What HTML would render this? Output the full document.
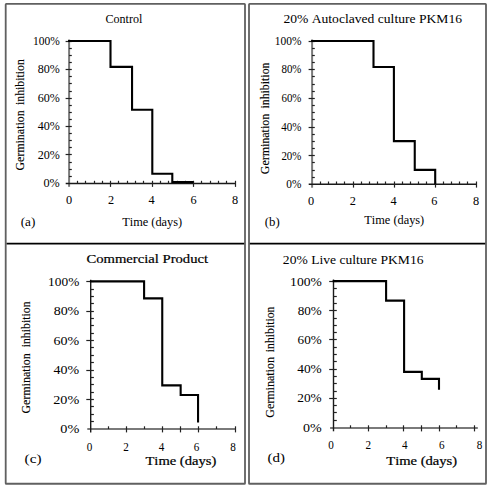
<!DOCTYPE html>
<html><head><meta charset="utf-8"><style>
html,body{margin:0;padding:0;background:#fff;}
body{width:488px;height:489px;overflow:hidden;}
svg{display:block;}
text{font-family:"Liberation Serif",serif;fill:#000;font-kerning:none;}
</style></head><body>
<svg width="488" height="489" viewBox="0 0 488 489">
<rect x="5.7" y="3.95" width="239.3" height="479.8" rx="0.6" fill="none" stroke="#606060" stroke-width="1.8"/>
<rect x="249" y="3.95" width="237" height="479.8" rx="0.6" fill="none" stroke="#606060" stroke-width="1.8"/>
<line x1="6.6" y1="243.6" x2="244.2" y2="243.6" stroke="#000" stroke-width="1.8"/>
<line x1="249.8" y1="243.6" x2="485.2" y2="243.6" stroke="#000" stroke-width="1.8"/>
<line x1="69.10" y1="39.50" x2="69.10" y2="186.80" stroke="#7a7a7a" stroke-width="2"/>
<line x1="65.70" y1="183.50" x2="235.10" y2="183.50" stroke="#1a1a1a" stroke-width="1.4"/>
<line x1="69.10" y1="176.50" x2="71.80" y2="176.50" stroke="#222" stroke-width="1.2"/>
<line x1="69.10" y1="169.50" x2="71.80" y2="169.50" stroke="#222" stroke-width="1.2"/>
<line x1="69.10" y1="162.50" x2="71.80" y2="162.50" stroke="#222" stroke-width="1.2"/>
<line x1="65.60" y1="154.50" x2="71.80" y2="154.50" stroke="#222" stroke-width="1.2"/>
<line x1="69.10" y1="147.50" x2="71.80" y2="147.50" stroke="#222" stroke-width="1.2"/>
<line x1="69.10" y1="140.50" x2="71.80" y2="140.50" stroke="#222" stroke-width="1.2"/>
<line x1="69.10" y1="133.50" x2="71.80" y2="133.50" stroke="#222" stroke-width="1.2"/>
<line x1="65.60" y1="126.50" x2="71.80" y2="126.50" stroke="#222" stroke-width="1.2"/>
<line x1="69.10" y1="119.50" x2="71.80" y2="119.50" stroke="#222" stroke-width="1.2"/>
<line x1="69.10" y1="112.50" x2="71.80" y2="112.50" stroke="#222" stroke-width="1.2"/>
<line x1="69.10" y1="105.50" x2="71.80" y2="105.50" stroke="#222" stroke-width="1.2"/>
<line x1="65.60" y1="98.50" x2="71.80" y2="98.50" stroke="#222" stroke-width="1.2"/>
<line x1="69.10" y1="91.50" x2="71.80" y2="91.50" stroke="#222" stroke-width="1.2"/>
<line x1="69.10" y1="83.50" x2="71.80" y2="83.50" stroke="#222" stroke-width="1.2"/>
<line x1="69.10" y1="76.50" x2="71.80" y2="76.50" stroke="#222" stroke-width="1.2"/>
<line x1="65.60" y1="69.50" x2="71.80" y2="69.50" stroke="#222" stroke-width="1.2"/>
<line x1="69.10" y1="62.50" x2="71.80" y2="62.50" stroke="#222" stroke-width="1.2"/>
<line x1="69.10" y1="55.50" x2="71.80" y2="55.50" stroke="#222" stroke-width="1.2"/>
<line x1="69.10" y1="48.50" x2="71.80" y2="48.50" stroke="#222" stroke-width="1.2"/>
<line x1="65.60" y1="41.50" x2="71.80" y2="41.50" stroke="#222" stroke-width="1.2"/>
<line x1="77.50" y1="180.80" x2="77.50" y2="183.50" stroke="#222" stroke-width="1.2"/>
<line x1="85.50" y1="180.80" x2="85.50" y2="183.50" stroke="#222" stroke-width="1.2"/>
<line x1="94.50" y1="180.80" x2="94.50" y2="183.50" stroke="#222" stroke-width="1.2"/>
<line x1="102.50" y1="180.80" x2="102.50" y2="183.50" stroke="#222" stroke-width="1.2"/>
<line x1="110.50" y1="180.80" x2="110.50" y2="186.90" stroke="#222" stroke-width="1.2"/>
<line x1="118.50" y1="180.80" x2="118.50" y2="183.50" stroke="#222" stroke-width="1.2"/>
<line x1="127.50" y1="180.80" x2="127.50" y2="183.50" stroke="#222" stroke-width="1.2"/>
<line x1="135.50" y1="180.80" x2="135.50" y2="183.50" stroke="#222" stroke-width="1.2"/>
<line x1="143.50" y1="180.80" x2="143.50" y2="183.50" stroke="#222" stroke-width="1.2"/>
<line x1="152.50" y1="180.80" x2="152.50" y2="186.90" stroke="#222" stroke-width="1.2"/>
<line x1="160.50" y1="180.80" x2="160.50" y2="183.50" stroke="#222" stroke-width="1.2"/>
<line x1="168.50" y1="180.80" x2="168.50" y2="183.50" stroke="#222" stroke-width="1.2"/>
<line x1="177.50" y1="180.80" x2="177.50" y2="183.50" stroke="#222" stroke-width="1.2"/>
<line x1="185.50" y1="180.80" x2="185.50" y2="183.50" stroke="#222" stroke-width="1.2"/>
<line x1="193.50" y1="180.80" x2="193.50" y2="186.90" stroke="#222" stroke-width="1.2"/>
<line x1="201.50" y1="180.80" x2="201.50" y2="183.50" stroke="#222" stroke-width="1.2"/>
<line x1="210.50" y1="180.80" x2="210.50" y2="183.50" stroke="#222" stroke-width="1.2"/>
<line x1="218.50" y1="180.80" x2="218.50" y2="183.50" stroke="#222" stroke-width="1.2"/>
<line x1="226.50" y1="180.80" x2="226.50" y2="183.50" stroke="#222" stroke-width="1.2"/>
<line x1="235.50" y1="180.80" x2="235.50" y2="186.90" stroke="#222" stroke-width="1.2"/>
<polyline points="68.10,41.00 110.50,41.00 110.50,66.90 132.05,66.90 132.05,109.70 152.30,109.70 152.30,173.70 172.30,173.70 172.30,182.10 193.50,182.10" fill="none" stroke="#000" stroke-width="2.1" stroke-linejoin="miter" stroke-linecap="butt"/>
<line x1="312.10" y1="39.50" x2="312.10" y2="187.70" stroke="#7a7a7a" stroke-width="2"/>
<line x1="308.70" y1="184.20" x2="476.10" y2="184.20" stroke="#1a1a1a" stroke-width="1.4"/>
<line x1="312.10" y1="177.50" x2="314.80" y2="177.50" stroke="#222" stroke-width="1.2"/>
<line x1="312.10" y1="170.50" x2="314.80" y2="170.50" stroke="#222" stroke-width="1.2"/>
<line x1="312.10" y1="162.50" x2="314.80" y2="162.50" stroke="#222" stroke-width="1.2"/>
<line x1="308.60" y1="155.50" x2="314.80" y2="155.50" stroke="#222" stroke-width="1.2"/>
<line x1="312.10" y1="148.50" x2="314.80" y2="148.50" stroke="#222" stroke-width="1.2"/>
<line x1="312.10" y1="141.50" x2="314.80" y2="141.50" stroke="#222" stroke-width="1.2"/>
<line x1="312.10" y1="134.50" x2="314.80" y2="134.50" stroke="#222" stroke-width="1.2"/>
<line x1="308.60" y1="127.50" x2="314.80" y2="127.50" stroke="#222" stroke-width="1.2"/>
<line x1="312.10" y1="119.50" x2="314.80" y2="119.50" stroke="#222" stroke-width="1.2"/>
<line x1="312.10" y1="112.50" x2="314.80" y2="112.50" stroke="#222" stroke-width="1.2"/>
<line x1="312.10" y1="105.50" x2="314.80" y2="105.50" stroke="#222" stroke-width="1.2"/>
<line x1="308.60" y1="98.50" x2="314.80" y2="98.50" stroke="#222" stroke-width="1.2"/>
<line x1="312.10" y1="91.50" x2="314.80" y2="91.50" stroke="#222" stroke-width="1.2"/>
<line x1="312.10" y1="84.50" x2="314.80" y2="84.50" stroke="#222" stroke-width="1.2"/>
<line x1="312.10" y1="76.50" x2="314.80" y2="76.50" stroke="#222" stroke-width="1.2"/>
<line x1="308.60" y1="69.50" x2="314.80" y2="69.50" stroke="#222" stroke-width="1.2"/>
<line x1="312.10" y1="62.50" x2="314.80" y2="62.50" stroke="#222" stroke-width="1.2"/>
<line x1="312.10" y1="55.50" x2="314.80" y2="55.50" stroke="#222" stroke-width="1.2"/>
<line x1="312.10" y1="48.50" x2="314.80" y2="48.50" stroke="#222" stroke-width="1.2"/>
<line x1="308.60" y1="41.50" x2="314.80" y2="41.50" stroke="#222" stroke-width="1.2"/>
<line x1="320.50" y1="181.50" x2="320.50" y2="184.20" stroke="#222" stroke-width="1.2"/>
<line x1="328.50" y1="181.50" x2="328.50" y2="184.20" stroke="#222" stroke-width="1.2"/>
<line x1="336.50" y1="181.50" x2="336.50" y2="184.20" stroke="#222" stroke-width="1.2"/>
<line x1="344.50" y1="181.50" x2="344.50" y2="184.20" stroke="#222" stroke-width="1.2"/>
<line x1="353.50" y1="181.50" x2="353.50" y2="187.60" stroke="#222" stroke-width="1.2"/>
<line x1="361.50" y1="181.50" x2="361.50" y2="184.20" stroke="#222" stroke-width="1.2"/>
<line x1="369.50" y1="181.50" x2="369.50" y2="184.20" stroke="#222" stroke-width="1.2"/>
<line x1="377.50" y1="181.50" x2="377.50" y2="184.20" stroke="#222" stroke-width="1.2"/>
<line x1="385.50" y1="181.50" x2="385.50" y2="184.20" stroke="#222" stroke-width="1.2"/>
<line x1="394.50" y1="181.50" x2="394.50" y2="187.60" stroke="#222" stroke-width="1.2"/>
<line x1="402.50" y1="181.50" x2="402.50" y2="184.20" stroke="#222" stroke-width="1.2"/>
<line x1="410.50" y1="181.50" x2="410.50" y2="184.20" stroke="#222" stroke-width="1.2"/>
<line x1="418.50" y1="181.50" x2="418.50" y2="184.20" stroke="#222" stroke-width="1.2"/>
<line x1="426.50" y1="181.50" x2="426.50" y2="184.20" stroke="#222" stroke-width="1.2"/>
<line x1="435.50" y1="181.50" x2="435.50" y2="187.60" stroke="#222" stroke-width="1.2"/>
<line x1="443.50" y1="181.50" x2="443.50" y2="184.20" stroke="#222" stroke-width="1.2"/>
<line x1="451.50" y1="181.50" x2="451.50" y2="184.20" stroke="#222" stroke-width="1.2"/>
<line x1="459.50" y1="181.50" x2="459.50" y2="184.20" stroke="#222" stroke-width="1.2"/>
<line x1="467.50" y1="181.50" x2="467.50" y2="184.20" stroke="#222" stroke-width="1.2"/>
<line x1="476.50" y1="181.50" x2="476.50" y2="187.60" stroke="#222" stroke-width="1.2"/>
<polyline points="311.10,41.05 373.50,41.05 373.50,66.95 393.90,66.95 393.90,141.15 414.75,141.15 414.75,169.85 435.20,169.85 435.20,184.20" fill="none" stroke="#000" stroke-width="2.1" stroke-linejoin="miter" stroke-linecap="butt"/>
<line x1="87.30" y1="429.00" x2="235.00" y2="429.00" stroke="#7a7a7a" stroke-width="2"/>
<line x1="90.70" y1="279.80" x2="90.70" y2="432.50" stroke="#1a1a1a" stroke-width="1.4"/>
<line x1="90.70" y1="421.50" x2="93.90" y2="421.50" stroke="#222" stroke-width="1.2"/>
<line x1="90.70" y1="414.50" x2="93.90" y2="414.50" stroke="#222" stroke-width="1.2"/>
<line x1="90.70" y1="406.50" x2="93.90" y2="406.50" stroke="#222" stroke-width="1.2"/>
<line x1="86.30" y1="399.50" x2="93.90" y2="399.50" stroke="#222" stroke-width="1.2"/>
<line x1="90.70" y1="392.50" x2="93.90" y2="392.50" stroke="#222" stroke-width="1.2"/>
<line x1="90.70" y1="384.50" x2="93.90" y2="384.50" stroke="#222" stroke-width="1.2"/>
<line x1="90.70" y1="377.50" x2="93.90" y2="377.50" stroke="#222" stroke-width="1.2"/>
<line x1="86.30" y1="370.50" x2="93.90" y2="370.50" stroke="#222" stroke-width="1.2"/>
<line x1="90.70" y1="362.50" x2="93.90" y2="362.50" stroke="#222" stroke-width="1.2"/>
<line x1="90.70" y1="355.50" x2="93.90" y2="355.50" stroke="#222" stroke-width="1.2"/>
<line x1="90.70" y1="347.50" x2="93.90" y2="347.50" stroke="#222" stroke-width="1.2"/>
<line x1="86.30" y1="340.50" x2="93.90" y2="340.50" stroke="#222" stroke-width="1.2"/>
<line x1="90.70" y1="333.50" x2="93.90" y2="333.50" stroke="#222" stroke-width="1.2"/>
<line x1="90.70" y1="325.50" x2="93.90" y2="325.50" stroke="#222" stroke-width="1.2"/>
<line x1="90.70" y1="318.50" x2="93.90" y2="318.50" stroke="#222" stroke-width="1.2"/>
<line x1="86.30" y1="311.50" x2="93.90" y2="311.50" stroke="#222" stroke-width="1.2"/>
<line x1="90.70" y1="303.50" x2="93.90" y2="303.50" stroke="#222" stroke-width="1.2"/>
<line x1="90.70" y1="296.50" x2="93.90" y2="296.50" stroke="#222" stroke-width="1.2"/>
<line x1="90.70" y1="289.50" x2="93.90" y2="289.50" stroke="#222" stroke-width="1.2"/>
<line x1="86.30" y1="281.50" x2="93.90" y2="281.50" stroke="#222" stroke-width="1.2"/>
<line x1="108.50" y1="426.30" x2="108.50" y2="429.00" stroke="#222" stroke-width="1.2"/>
<line x1="126.50" y1="426.30" x2="126.50" y2="432.40" stroke="#222" stroke-width="1.2"/>
<line x1="144.50" y1="426.30" x2="144.50" y2="429.00" stroke="#222" stroke-width="1.2"/>
<line x1="162.50" y1="426.30" x2="162.50" y2="432.40" stroke="#222" stroke-width="1.2"/>
<line x1="180.50" y1="426.30" x2="180.50" y2="432.40" stroke="#222" stroke-width="1.2"/>
<line x1="198.50" y1="426.30" x2="198.50" y2="432.40" stroke="#222" stroke-width="1.2"/>
<line x1="216.50" y1="426.30" x2="216.50" y2="429.00" stroke="#222" stroke-width="1.2"/>
<line x1="235.50" y1="426.30" x2="235.50" y2="432.40" stroke="#222" stroke-width="1.2"/>
<polyline points="89.90,281.35 144.10,281.35 144.10,298.40 162.25,298.40 162.25,385.40 180.65,385.40 180.65,395.05 198.05,395.05 198.05,422.40" fill="none" stroke="#000" stroke-width="2.1" stroke-linejoin="miter" stroke-linecap="butt"/>
<line x1="330.10" y1="428.00" x2="477.80" y2="428.00" stroke="#7a7a7a" stroke-width="2"/>
<line x1="333.50" y1="279.50" x2="333.50" y2="431.30" stroke="#1a1a1a" stroke-width="1.4"/>
<line x1="333.50" y1="420.50" x2="336.80" y2="420.50" stroke="#222" stroke-width="1.2"/>
<line x1="333.50" y1="412.50" x2="336.80" y2="412.50" stroke="#222" stroke-width="1.2"/>
<line x1="333.50" y1="405.50" x2="336.80" y2="405.50" stroke="#222" stroke-width="1.2"/>
<line x1="329.20" y1="398.50" x2="336.80" y2="398.50" stroke="#222" stroke-width="1.2"/>
<line x1="333.50" y1="391.50" x2="336.80" y2="391.50" stroke="#222" stroke-width="1.2"/>
<line x1="333.50" y1="383.50" x2="336.80" y2="383.50" stroke="#222" stroke-width="1.2"/>
<line x1="333.50" y1="376.50" x2="336.80" y2="376.50" stroke="#222" stroke-width="1.2"/>
<line x1="329.20" y1="369.50" x2="336.80" y2="369.50" stroke="#222" stroke-width="1.2"/>
<line x1="333.50" y1="361.50" x2="336.80" y2="361.50" stroke="#222" stroke-width="1.2"/>
<line x1="333.50" y1="354.50" x2="336.80" y2="354.50" stroke="#222" stroke-width="1.2"/>
<line x1="333.50" y1="347.50" x2="336.80" y2="347.50" stroke="#222" stroke-width="1.2"/>
<line x1="329.20" y1="339.50" x2="336.80" y2="339.50" stroke="#222" stroke-width="1.2"/>
<line x1="333.50" y1="332.50" x2="336.80" y2="332.50" stroke="#222" stroke-width="1.2"/>
<line x1="333.50" y1="325.50" x2="336.80" y2="325.50" stroke="#222" stroke-width="1.2"/>
<line x1="333.50" y1="318.50" x2="336.80" y2="318.50" stroke="#222" stroke-width="1.2"/>
<line x1="329.20" y1="310.50" x2="336.80" y2="310.50" stroke="#222" stroke-width="1.2"/>
<line x1="333.50" y1="303.50" x2="336.80" y2="303.50" stroke="#222" stroke-width="1.2"/>
<line x1="333.50" y1="296.50" x2="336.80" y2="296.50" stroke="#222" stroke-width="1.2"/>
<line x1="333.50" y1="288.50" x2="336.80" y2="288.50" stroke="#222" stroke-width="1.2"/>
<line x1="329.20" y1="281.50" x2="336.80" y2="281.50" stroke="#222" stroke-width="1.2"/>
<line x1="350.50" y1="425.30" x2="350.50" y2="428.00" stroke="#222" stroke-width="1.2"/>
<line x1="368.50" y1="425.30" x2="368.50" y2="431.40" stroke="#222" stroke-width="1.2"/>
<line x1="386.50" y1="425.30" x2="386.50" y2="428.00" stroke="#222" stroke-width="1.2"/>
<line x1="403.50" y1="425.30" x2="403.50" y2="431.40" stroke="#222" stroke-width="1.2"/>
<line x1="421.50" y1="425.30" x2="421.50" y2="431.40" stroke="#222" stroke-width="1.2"/>
<line x1="439.50" y1="425.30" x2="439.50" y2="431.40" stroke="#222" stroke-width="1.2"/>
<line x1="456.50" y1="425.30" x2="456.50" y2="428.00" stroke="#222" stroke-width="1.2"/>
<line x1="474.50" y1="425.30" x2="474.50" y2="431.40" stroke="#222" stroke-width="1.2"/>
<polyline points="332.70,281.15 386.10,281.15 386.10,300.60 404.10,300.60 404.10,371.90 421.80,371.90 421.80,378.90 439.00,378.90 439.00,389.70" fill="none" stroke="#000" stroke-width="2.1" stroke-linejoin="miter" stroke-linecap="butt"/>
<text x="105.51" y="22.90" font-size="12.80" font-weight="normal" textLength="36.84" lengthAdjust="spacingAndGlyphs">Control</text>
<text x="283.40" y="23.00" font-size="12.80" font-weight="normal" textLength="178.60" lengthAdjust="spacingAndGlyphs">20% Autoclaved culture PKM16</text>
<text x="86.40" y="263.10" font-size="12.50" font-weight="normal" textLength="121.69" lengthAdjust="spacingAndGlyphs" style="stroke:#000;stroke-width:0.2px">Commercial Product</text>
<text x="282.87" y="263.70" font-size="13.20" font-weight="normal" textLength="140.63" lengthAdjust="spacingAndGlyphs">20% Live culture PKM16</text>
<text transform="translate(23.80,170.59) rotate(-90)" font-size="12.60" textLength="60.27" lengthAdjust="spacingAndGlyphs" style="stroke:#000;stroke-width:0.12px">Germination</text>
<text transform="translate(23.80,105.05) rotate(-90)" font-size="12.60" textLength="45.93" lengthAdjust="spacingAndGlyphs" style="stroke:#000;stroke-width:0.12px">inhibition</text>
<text transform="translate(269.20,174.19) rotate(-90)" font-size="12.60" textLength="60.37" lengthAdjust="spacingAndGlyphs" style="stroke:#000;stroke-width:0.12px">Germination</text>
<text transform="translate(269.20,108.55) rotate(-90)" font-size="12.60" textLength="46.03" lengthAdjust="spacingAndGlyphs" style="stroke:#000;stroke-width:0.12px">inhibition</text>
<text transform="translate(29.80,413.59) rotate(-90)" font-size="12.60" textLength="60.37" lengthAdjust="spacingAndGlyphs" style="stroke:#000;stroke-width:0.12px">Germination</text>
<text transform="translate(29.80,347.35) rotate(-90)" font-size="12.60" textLength="45.93" lengthAdjust="spacingAndGlyphs" style="stroke:#000;stroke-width:0.12px">inhibition</text>
<text transform="translate(274.40,417.79) rotate(-90)" font-size="12.60" textLength="60.78" lengthAdjust="spacingAndGlyphs" style="stroke:#000;stroke-width:0.12px">Germination</text>
<text transform="translate(274.40,352.15) rotate(-90)" font-size="12.60" textLength="45.62" lengthAdjust="spacingAndGlyphs" style="stroke:#000;stroke-width:0.12px">inhibition</text>
<text x="20.72" y="225.86" font-size="12.30" font-weight="normal" textLength="14.66" lengthAdjust="spacingAndGlyphs">(a)</text>
<text x="264.74" y="225.96" font-size="12.30" font-weight="normal" textLength="14.93" lengthAdjust="spacingAndGlyphs">(b)</text>
<text x="24.63" y="462.76" font-size="12.30" font-weight="normal" textLength="16.83" lengthAdjust="spacingAndGlyphs" style="stroke:#000;stroke-width:0.05px">(c)</text>
<text x="267.54" y="462.36" font-size="12.30" font-weight="normal" textLength="17.41" lengthAdjust="spacingAndGlyphs" style="stroke:#000;stroke-width:0.05px">(d)</text>
<text x="122.18" y="225.87" font-size="12.20" font-weight="normal" textLength="59.97" lengthAdjust="spacingAndGlyphs">Time (days)</text>
<text x="364.28" y="224.27" font-size="12.20" font-weight="normal" textLength="59.97" lengthAdjust="spacingAndGlyphs">Time (days)</text>
<text x="145.44" y="464.86" font-size="12.60" font-weight="normal" textLength="70.90" lengthAdjust="spacingAndGlyphs" style="stroke:#000;stroke-width:0.22px">Time (days)</text>
<text x="386.24" y="464.66" font-size="12.60" font-weight="normal" textLength="70.90" lengthAdjust="spacingAndGlyphs" style="stroke:#000;stroke-width:0.22px">Time (days)</text>
<text x="32.99" y="45.04" font-size="11.60" font-weight="normal" textLength="26.80" lengthAdjust="spacingAndGlyphs">100%</text>
<text x="37.74" y="73.47" font-size="11.60" font-weight="normal" textLength="22.07" lengthAdjust="spacingAndGlyphs">80%</text>
<text x="37.68" y="101.91" font-size="11.60" font-weight="normal" textLength="22.13" lengthAdjust="spacingAndGlyphs">60%</text>
<text x="37.66" y="130.34" font-size="11.60" font-weight="normal" textLength="22.15" lengthAdjust="spacingAndGlyphs">40%</text>
<text x="37.67" y="158.78" font-size="11.60" font-weight="normal" textLength="22.14" lengthAdjust="spacingAndGlyphs">20%</text>
<text x="43.53" y="187.21" font-size="11.60" font-weight="normal" textLength="16.28" lengthAdjust="spacingAndGlyphs">0%</text>
<text x="274.79" y="44.78" font-size="11.60" font-weight="normal" textLength="26.70" lengthAdjust="spacingAndGlyphs">100%</text>
<text x="281.48" y="73.48" font-size="11.60" font-weight="normal" textLength="19.99" lengthAdjust="spacingAndGlyphs">80%</text>
<text x="281.43" y="102.18" font-size="11.60" font-weight="normal" textLength="20.04" lengthAdjust="spacingAndGlyphs">60%</text>
<text x="281.28" y="130.88" font-size="11.60" font-weight="normal" textLength="20.19" lengthAdjust="spacingAndGlyphs">40%</text>
<text x="281.42" y="159.58" font-size="11.60" font-weight="normal" textLength="20.05" lengthAdjust="spacingAndGlyphs">20%</text>
<text x="286.37" y="188.28" font-size="11.60" font-weight="normal" textLength="15.12" lengthAdjust="spacingAndGlyphs">0%</text>
<text x="48.13" y="285.99" font-size="12.60" font-weight="normal" textLength="31.13" lengthAdjust="spacingAndGlyphs">100%</text>
<text x="53.67" y="315.37" font-size="12.60" font-weight="normal" textLength="25.61" lengthAdjust="spacingAndGlyphs">80%</text>
<text x="53.60" y="344.75" font-size="12.60" font-weight="normal" textLength="25.68" lengthAdjust="spacingAndGlyphs">60%</text>
<text x="53.63" y="374.14" font-size="12.60" font-weight="normal" textLength="25.65" lengthAdjust="spacingAndGlyphs">40%</text>
<text x="53.28" y="403.52" font-size="12.60" font-weight="normal" textLength="26.01" lengthAdjust="spacingAndGlyphs">20%</text>
<text x="60.26" y="432.91" font-size="12.60" font-weight="normal" textLength="19.03" lengthAdjust="spacingAndGlyphs">0%</text>
<text x="290.11" y="285.61" font-size="12.60" font-weight="normal" textLength="31.66" lengthAdjust="spacingAndGlyphs">100%</text>
<text x="297.70" y="314.81" font-size="12.60" font-weight="normal" textLength="24.05" lengthAdjust="spacingAndGlyphs">80%</text>
<text x="297.63" y="344.01" font-size="12.60" font-weight="normal" textLength="24.11" lengthAdjust="spacingAndGlyphs">60%</text>
<text x="297.24" y="373.21" font-size="12.60" font-weight="normal" textLength="24.52" lengthAdjust="spacingAndGlyphs">40%</text>
<text x="297.31" y="402.41" font-size="12.60" font-weight="normal" textLength="24.44" lengthAdjust="spacingAndGlyphs">20%</text>
<text x="303.07" y="431.61" font-size="12.60" font-weight="normal" textLength="18.71" lengthAdjust="spacingAndGlyphs">0%</text>
<text x="66.12" y="204.28" font-size="12.30" font-weight="normal" textLength="6.15" lengthAdjust="spacingAndGlyphs">0</text>
<text x="108.09" y="204.28" font-size="12.30" font-weight="normal" textLength="6.15" lengthAdjust="spacingAndGlyphs">2</text>
<text x="148.60" y="204.28" font-size="12.30" font-weight="normal" textLength="6.15" lengthAdjust="spacingAndGlyphs">4</text>
<text x="190.44" y="204.28" font-size="12.30" font-weight="normal" textLength="6.15" lengthAdjust="spacingAndGlyphs">6</text>
<text x="232.02" y="204.28" font-size="12.30" font-weight="normal" textLength="6.15" lengthAdjust="spacingAndGlyphs">8</text>
<text x="308.12" y="204.83" font-size="12.30" font-weight="normal" textLength="6.15" lengthAdjust="spacingAndGlyphs">0</text>
<text x="349.69" y="204.83" font-size="12.30" font-weight="normal" textLength="6.15" lengthAdjust="spacingAndGlyphs">2</text>
<text x="390.50" y="204.83" font-size="12.30" font-weight="normal" textLength="6.15" lengthAdjust="spacingAndGlyphs">4</text>
<text x="431.24" y="204.83" font-size="12.30" font-weight="normal" textLength="6.15" lengthAdjust="spacingAndGlyphs">6</text>
<text x="472.93" y="204.83" font-size="12.30" font-weight="normal" textLength="6.15" lengthAdjust="spacingAndGlyphs">8</text>
<text x="86.76" y="451.46" font-size="12.40" font-weight="normal" textLength="5.58" lengthAdjust="spacingAndGlyphs">0</text>
<text x="123.17" y="451.46" font-size="12.40" font-weight="normal" textLength="5.58" lengthAdjust="spacingAndGlyphs">2</text>
<text x="158.69" y="451.46" font-size="12.40" font-weight="normal" textLength="5.58" lengthAdjust="spacingAndGlyphs">4</text>
<text x="193.64" y="451.46" font-size="12.40" font-weight="normal" textLength="5.58" lengthAdjust="spacingAndGlyphs">6</text>
<text x="230.21" y="451.46" font-size="12.40" font-weight="normal" textLength="5.58" lengthAdjust="spacingAndGlyphs">8</text>
<text x="328.21" y="449.41" font-size="12.40" font-weight="normal" textLength="5.58" lengthAdjust="spacingAndGlyphs">0</text>
<text x="365.57" y="449.41" font-size="12.40" font-weight="normal" textLength="5.58" lengthAdjust="spacingAndGlyphs">2</text>
<text x="402.09" y="449.41" font-size="12.40" font-weight="normal" textLength="5.58" lengthAdjust="spacingAndGlyphs">4</text>
<text x="439.04" y="449.41" font-size="12.40" font-weight="normal" textLength="5.58" lengthAdjust="spacingAndGlyphs">6</text>
<text x="476.71" y="449.41" font-size="12.40" font-weight="normal" textLength="5.58" lengthAdjust="spacingAndGlyphs">8</text>
</svg>
</body></html>
